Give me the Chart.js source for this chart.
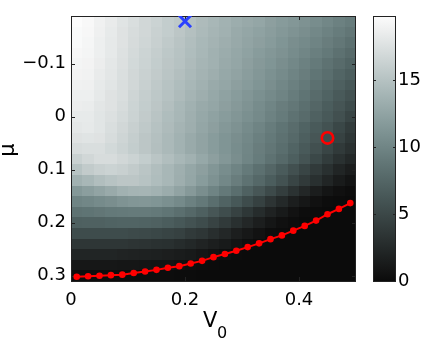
<!DOCTYPE html>
<html>
<head>
<meta charset="utf-8">
<script src="https://cdn.jsdelivr.net/npm/chart.js@4/dist/chart.umd.min.js"></script>
<style>
  body { margin: 0; background: #fff; }
  #wrap { position: relative; width: 436px; height: 342px; }
  #wrap canvas { position: absolute; left: 0; top: 0; }
</style>
</head>
<body>
<div id="wrap">
  <canvas id="mapa" width="436" height="342"></canvas>
  <canvas id="barra" width="436" height="342"></canvas>
</div>
<script>
"use strict";
// centros de las celdas
const v0Centros = [0.01, 0.03, 0.05, 0.07, 0.09, 0.11, 0.13, 0.15, 0.17, 0.19, 0.21, 0.23, 0.25,
    0.27, 0.29, 0.31, 0.33, 0.35, 0.37, 0.39, 0.41, 0.43, 0.45, 0.47, 0.49];
const muCentros = [-0.18, -0.16, -0.14, -0.12, -0.10, -0.08, -0.06, -0.04, -0.02, 0, 0.02, 0.04, 0.06,
    0.08, 0.10, 0.12, 0.14, 0.16, 0.18, 0.20, 0.22, 0.24, 0.26, 0.28, 0.30];
// valores del mapa, una fila por cada mu (de arriba hacia abajo)
const valores = [
    [19.8, 19.5, 18.9, 18.4, 17.8, 17.3, 16.8, 16.4, 15.9, 15.5, 15.0, 14.5, 14.1, 13.7, 13.3, 13.0, 12.7, 12.2, 11.8, 11.5, 11.1, 10.7, 10.2, 9.7, 9.3],
    [19.6, 19.4, 18.8, 18.3, 17.7, 17.2, 16.8, 16.3, 15.9, 15.4, 14.9, 14.4, 14.0, 13.6, 13.1, 12.7, 12.4, 12.0, 11.6, 11.2, 10.8, 10.3, 9.8, 9.3, 8.8],
    [19.6, 19.3, 18.7, 18.2, 17.7, 17.1, 16.7, 16.2, 15.7, 15.2, 14.7, 14.2, 13.8, 13.4, 13.0, 12.6, 12.2, 11.8, 11.3, 10.8, 10.4, 9.9, 9.4, 8.9, 8.3],
    [19.4, 19.2, 18.7, 18.2, 17.6, 17.0, 16.5, 16.0, 15.5, 15.1, 14.6, 14.1, 13.6, 13.2, 12.8, 12.4, 11.9, 11.5, 11.1, 10.6, 10.1, 9.5, 9.0, 8.4, 7.8],
    [19.2, 19.1, 18.6, 18.1, 17.5, 16.9, 16.4, 15.9, 15.4, 15.0, 14.5, 14.0, 13.6, 13.1, 12.7, 12.2, 11.7, 11.3, 10.8, 10.3, 9.7, 9.1, 8.5, 7.9, 7.3],
    [19.1, 19.0, 18.4, 18.0, 17.4, 16.8, 16.3, 15.8, 15.3, 14.8, 14.3, 13.8, 13.4, 12.9, 12.5, 12.0, 11.5, 11.0, 10.5, 9.9, 9.4, 8.7, 8.1, 7.4, 6.8],
    [18.9, 18.8, 18.3, 17.9, 17.3, 16.8, 16.2, 15.6, 15.1, 14.6, 14.1, 13.6, 13.1, 12.7, 12.2, 11.8, 11.3, 10.8, 10.2, 9.6, 9.0, 8.3, 7.6, 7.0, 6.3],
    [18.7, 18.7, 18.2, 17.7, 17.3, 16.6, 16.0, 15.5, 15.0, 14.5, 13.9, 13.4, 12.9, 12.4, 11.9, 11.4, 10.9, 10.4, 9.9, 9.3, 8.6, 7.9, 7.2, 6.5, 5.8],
    [18.6, 18.5, 18.0, 17.7, 17.2, 16.5, 15.9, 15.4, 14.8, 14.2, 13.6, 13.1, 12.7, 12.2, 11.7, 11.2, 10.6, 10.0, 9.4, 8.9, 8.2, 7.5, 6.7, 6.1, 5.3],
    [18.3, 18.3, 17.9, 17.5, 17.0, 16.4, 15.8, 15.2, 14.6, 14.1, 13.5, 12.9, 12.4, 11.9, 11.4, 10.9, 10.4, 9.8, 9.2, 8.5, 7.9, 7.1, 6.4, 5.7, 4.8],
    [18.1, 18.2, 17.9, 17.3, 16.8, 16.2, 15.6, 15.0, 14.5, 13.9, 13.4, 12.7, 12.2, 11.6, 11.1, 10.5, 9.9, 9.3, 8.6, 8.0, 7.2, 6.5, 5.8, 4.9, 4.0],
    [17.7, 17.8, 17.7, 17.2, 16.6, 16.0, 15.4, 14.9, 14.3, 13.7, 13.1, 12.5, 11.9, 11.3, 10.8, 10.3, 9.6, 9.0, 8.4, 7.7, 6.9, 6.2, 5.3, 4.5, 3.6],
    [17.2, 17.3, 17.3, 16.9, 16.4, 15.9, 15.4, 14.8, 14.3, 13.7, 13.1, 12.5, 11.9, 11.3, 10.7, 10.1, 9.4, 8.8, 8.1, 7.3, 6.5, 5.7, 4.8, 3.9, 3.1],
    [16.3, 16.8, 17.2, 17.2, 16.8, 16.4, 15.9, 15.3, 14.7, 14.1, 13.6, 12.9, 12.2, 11.5, 10.8, 10.0, 9.3, 8.5, 7.7, 6.9, 6.0, 5.0, 4.0, 3.1, 2.4],
    [15.1, 15.8, 16.2, 16.4, 16.2, 15.8, 15.3, 14.7, 14.1, 13.5, 12.8, 12.2, 11.4, 10.7, 9.9, 9.1, 8.3, 7.5, 6.6, 5.7, 4.8, 3.9, 3.0, 2.1, 1.5],
    [13.6, 14.1, 14.7, 15.1, 15.4, 15.4, 15.1, 14.6, 14.1, 13.4, 12.7, 11.9, 11.1, 10.3, 9.4, 8.5, 7.6, 6.7, 5.8, 4.8, 3.9, 3.0, 2.1, 1.3, 0.7],
    [11.6, 12.1, 12.6, 13.1, 13.6, 13.9, 14.0, 13.7, 13.2, 12.5, 11.7, 10.8, 9.9, 9.0, 8.1, 7.1, 6.2, 5.2, 4.2, 3.2, 2.3, 1.5, 0.8, 0.4, 0.2],
    [9.9, 10.2, 10.5, 10.8, 11.2, 11.4, 11.5, 11.3, 10.9, 10.4, 9.7, 9.0, 8.1, 7.2, 6.3, 5.3, 4.4, 3.4, 2.5, 1.6, 1.0, 0.5, 0.2, 0.1, 0],
    [8.5, 8.6, 8.8, 9.0, 9.1, 9.2, 9.2, 9.0, 8.7, 8.2, 7.6, 7.0, 6.2, 5.4, 4.5, 3.6, 2.7, 1.9, 1.2, 0.6, 0.2, 0.1, 0, 0, 0],
    [7.0, 7.1, 7.1, 7.2, 7.3, 7.3, 7.2, 7.1, 6.7, 6.3, 5.8, 5.3, 4.6, 3.9, 3.0, 2.3, 1.6, 0.9, 0.4, 0.2, 0, 0, 0, 0, 0],
    [5.3, 5.3, 5.3, 5.3, 5.3, 5.2, 5.1, 4.9, 4.7, 4.4, 3.9, 3.5, 2.9, 2.3, 1.6, 1.1, 0.6, 0.2, 0.1, 0, 0, 0, 0, 0, 0],
    [3.5, 3.5, 3.5, 3.5, 3.5, 3.4, 3.3, 3.1, 3.0, 2.7, 2.4, 2.0, 1.6, 1.2, 0.7, 0.3, 0.1, 0, 0, 0, 0, 0, 0, 0, 0],
    [2.1, 2.1, 2.1, 2.1, 2.0, 1.9, 1.8, 1.7, 1.6, 1.4, 1.2, 0.9, 0.6, 0.3, 0.1, 0, 0, 0, 0, 0, 0, 0, 0, 0, 0],
    [1.0, 1.0, 1.0, 1.0, 0.9, 0.9, 0.8, 0.7, 0.7, 0.5, 0.3, 0.2, 0.1, 0, 0, 0, 0, 0, 0, 0, 0, 0, 0, 0, 0],
    [0.2, 0.2, 0.2, 0.2, 0.2, 0.2, 0.2, 0.2, 0.2, 0.1, 0.1, 0, 0, 0, 0, 0, 0, 0, 0, 0, 0, 0, 0, 0, 0]
];
// curva roja (mu critico para cada V0)
const muCritico = [0.302, 0.301, 0.300, 0.299, 0.298, 0.295, 0.292, 0.289, 0.285, 0.282, 0.277, 0.272, 0.265,
    0.259, 0.253, 0.246, 0.239, 0.231, 0.224, 0.215, 0.206, 0.196, 0.184, 0.174, 0.163];
// marcadores
const puntoCirculo = { x: 0.45, y: 0.04 };
const puntoCruz = { x: 0.2, y: -0.18 };
// ejes
const xTicks = [0, 0.2, 0.4];
const xEtiquetas = ["0", "0.2", "0.4"];
const yTicks = [-0.1, 0, 0.1, 0.2, 0.3];
const yEtiquetas = ["\u22120.1", "0", "0.1", "0.2", "0.3"];
const barraMax = 19.8;
const barraTicks = [0, 5, 10, 15];
const barraEtiquetas = ["0", "5", "10", "15"];

const FUENTE = "'DejaVu Sans', 'Liberation Sans', Arial, sans-serif";
const BORDE = "#222";

// mapa de colores gris con tinte cian
function colorMapa(v) {
    const t = Math.max(0, Math.min(1, v / barraMax));
    const g = 11 + 241 * t;
    const d = 21 * Math.pow(Math.sin(Math.PI * t), 1.5);
    return `rgb(${Math.round(g - d)},${Math.round(g)},${Math.round(g)})`;
}

function marcarTicks(ctx, area, xs, ys, largo) {
    ctx.save();
    ctx.strokeStyle = BORDE;
    ctx.lineWidth = 1;
    ctx.beginPath();
    xs.forEach(px => {
        const p = Math.round(px) + 0.5;
        ctx.moveTo(p, area.bottom);
        ctx.lineTo(p, area.bottom - largo);
        ctx.moveTo(p, area.top);
        ctx.lineTo(p, area.top + largo);
    });
    ys.forEach(py => {
        const p = Math.round(py) + 0.5;
        ctx.moveTo(area.left, p);
        ctx.lineTo(area.left + largo, p);
        ctx.moveTo(area.right, p);
        ctx.lineTo(area.right - largo, p);
    });
    ctx.stroke();
    ctx.strokeRect(area.left + 0.5, area.top + 0.5, area.right - area.left - 1, area.bottom - area.top);
    ctx.restore();
}

const pluginMapa = {
    id: "mapa",
    beforeDatasetsDraw(chart) {
        const { ctx, scales: { x, y } } = chart;
        const hx = (v0Centros[1] - v0Centros[0]) / 2;
        const hy = (muCentros[1] - muCentros[0]) / 2;
        valores.forEach((fila, i) => {
            fila.forEach((val, j) => {
                const x0 = Math.round(x.getPixelForValue(v0Centros[j] - hx));
                const x1 = Math.round(x.getPixelForValue(v0Centros[j] + hx));
                const y0 = Math.round(y.getPixelForValue(muCentros[i] - hy));
                const y1 = Math.round(y.getPixelForValue(muCentros[i] + hy));
                ctx.fillStyle = colorMapa(val);
                ctx.fillRect(x0, Math.min(y0, y1), x1 - x0, Math.abs(y1 - y0));
            });
        });
        marcarTicks(ctx, chart.chartArea, xTicks.map(v => x.getPixelForValue(v)),
            yTicks.map(v => y.getPixelForValue(v)), 4);
    },
    afterDraw(chart) {
        const ctx = chart.ctx;
        ctx.save();
        ctx.fillStyle = "#000";
        // titulo eje y
        ctx.font = `21px ${FUENTE}`;
        ctx.textAlign = "center";
        ctx.textBaseline = "alphabetic";
        ctx.translate(14, 150);
        ctx.rotate(-Math.PI / 2);
        ctx.fillText("\u03bc", 0, 0);
        ctx.restore();
        // titulo eje x con subindice
        ctx.save();
        ctx.fillStyle = "#000";
        ctx.textAlign = "left";
        ctx.textBaseline = "alphabetic";
        ctx.font = `21px ${FUENTE}`;
        ctx.fillText("V", 203, 327);
        ctx.font = `16px ${FUENTE}`;
        ctx.fillText("0", 217, 338);
        ctx.restore();
    }
};

const pluginBarra = {
    id: "barra",
    beforeDatasetsDraw(chart) {
        const { ctx, chartArea: a, scales: { y } } = chart;
        const grad = ctx.createLinearGradient(0, y.getPixelForValue(0), 0, y.getPixelForValue(barraMax));
        for (let k = 0; k <= 20; k++) {
            grad.addColorStop(k / 20, colorMapa(barraMax * k / 20));
        }
        ctx.fillStyle = grad;
        ctx.fillRect(a.left, a.top, a.right - a.left, a.bottom - a.top);
        marcarTicks(ctx, a, [], barraTicks.map(v => y.getPixelForValue(v)), 3);
    }
};

const ticksFuente = { family: FUENTE, size: 18 };

new Chart(document.getElementById("mapa"), {
    type: "scatter",
    data: {
        datasets: [
            {
                data: v0Centros.map((v, i) => ({ x: v, y: muCritico[i] })),
                showLine: true,
                borderColor: "#ff0000",
                backgroundColor: "#ff0000",
                borderWidth: 2,
                pointRadius: 3.3,
                pointBorderWidth: 0
            },
            {
                data: [puntoCirculo],
                pointStyle: "circle",
                pointRadius: 5.7,
                borderColor: "#ff0000",
                backgroundColor: "rgba(0,0,0,0)",
                borderWidth: 2.6
            },
            {
                data: [puntoCruz],
                pointStyle: "crossRot",
                pointRadius: 8.5,
                borderColor: "#2a40ff",
                borderWidth: 3
            }
        ]
    },
    options: {
        responsive: false,
        animation: false,
        devicePixelRatio: 1,
        layout: { padding: { top: 16, right: 80, left: 0, bottom: 0 } },
        plugins: { legend: { display: false }, tooltip: { enabled: false } },
        scales: {
            x: {
                type: "linear",
                min: 0,
                max: 0.5,
                grid: { display: false, drawTicks: false },
                border: { display: false },
                afterBuildTicks: s => { s.ticks = xTicks.map(v => ({ value: v })); },
                afterFit: s => { s.height = 61; },
                ticks: {
                    padding: 9,
                    maxRotation: 0,
                    color: "#000",
                    font: ticksFuente,
                    callback: (v, i) => xEtiquetas[i]
                }
            },
            y: {
                type: "linear",
                reverse: true,
                min: -0.19,
                max: 0.31,
                grid: { display: false, drawTicks: false },
                border: { display: false },
                afterBuildTicks: s => { s.ticks = yTicks.map(v => ({ value: v })); },
                afterFit: s => { s.width = 71; },
                ticks: {
                    padding: 5,
                    color: "#000",
                    font: ticksFuente,
                    callback: (v, i) => yEtiquetas[i]
                }
            }
        }
    },
    plugins: [pluginMapa]
});

new Chart(document.getElementById("barra"), {
    type: "scatter",
    data: { datasets: [] },
    options: {
        responsive: false,
        animation: false,
        devicePixelRatio: 1,
        layout: { padding: { top: 16, right: 0, left: 373, bottom: 61 } },
        plugins: { legend: { display: false }, tooltip: { enabled: false } },
        scales: {
            x: { display: false, min: 0, max: 1 },
            y: {
                position: "right",
                min: 0,
                max: barraMax,
                grid: { display: false, drawTicks: false },
                border: { display: false },
                afterBuildTicks: s => { s.ticks = barraTicks.map(v => ({ value: v })); },
                afterFit: s => { s.width = 40; },
                ticks: {
                    padding: 2,
                    color: "#000",
                    font: ticksFuente,
                    callback: (v, i) => barraEtiquetas[i]
                }
            }
        }
    },
    plugins: [pluginBarra]
});
</script>
</body>
</html>
